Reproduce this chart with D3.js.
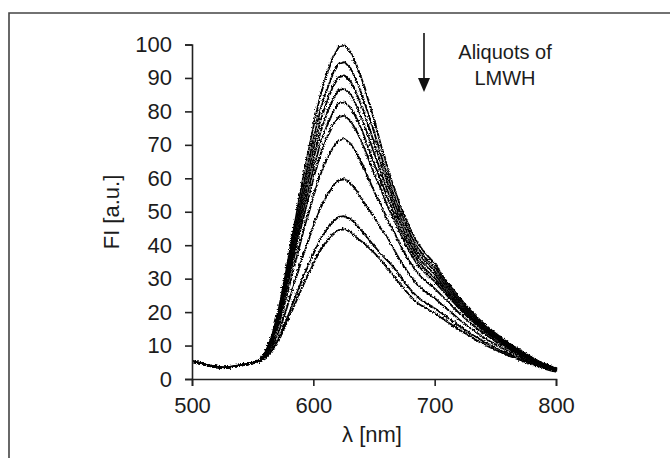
<!DOCTYPE html>
<html>
<head>
<meta charset="utf-8">
<script src="https://cdn.jsdelivr.net/npm/d3@7"></script>
<style>
  body { margin: 0; background: #fff; }
  text { font-family: "Liberation Sans", Arial, sans-serif; fill: #1c1c1c; }
</style>
</head>
<body>
<div id="chart"></div>
<script>
// wavelength grid (nm)
const wavelength = [500,505,510,515,520,525,530,535,540,545,550,
    555,560,565,570,575,580,585,590,595,600,605,610,615,620,625,
    630,635,640,645,650,655,660,665,670,675,680,685,690,695,700,
    705,710,715,720,725,730,735,740,745,750,755,760,765,770,775,780,785,790,795,800];

// fluorescence intensity, one array per aliquot (top to bottom)
const fi1 = [5.6,5.1,4.6,4.2,3.9,3.7,3.8,4.1,4.4,4.8,5.2,
    6.0,8.5,13,20,29,39,49,59,68,77,85,91,96,99.5,100,
    98,94,89,83,77,70,64,58,53,48.5,44.5,41,38.5,36.5,34.5,
    31.5,29,26.8,24.5,22.3,20.3,18.4,16.8,15.2,13.8,12.4,11.1,9.9,8.8,7.7,6.6,5.6,4.8,4.1,3.5];
const fi2 = [5.4,5.0,4.5,4.1,3.8,3.6,3.9,4.0,4.5,4.7,5.3,
    5.9,8.3,12.6,19.2,27.7,37.2,46.7,56.1,64.7,73.2,80.8,86.4,91.2,94.5,95,
    93.1,89.3,84.5,78.9,73.2,67.1,61.4,55.9,51.1,46.8,42.9,39.6,37.2,35.2,33.3,
    30.6,28.2,26,23.8,21.7,19.7,17.9,16.3,14.8,13.4,12.1,10.9,9.7,8.6,7.5,6.5,5.5,4.7,4.0,3.4];
const fi3 = [5.5,5.2,4.7,4.3,4.0,3.8,3.7,4.2,4.3,4.9,5.1,
    5.9,8.2,12.2,18.6,26.7,35.8,44.8,53.9,62,70.2,77.4,82.8,87.4,90.5,91,
    89.2,85.5,81,75.6,70.2,64.7,59.2,54,49.4,45.2,41.5,38.3,36,34.1,32.3,
    29.7,27.4,25.3,23.1,21.1,19.2,17.4,15.8,14.4,13,11.7,10.5,9.4,8.3,7.3,6.3,5.4,4.6,3.9,3.3];
const fi4 = [5.3,4.9,4.5,4.2,3.9,3.5,3.8,4.0,4.4,4.6,5.2,
    5.9,8,11.9,17.9,25.7,34.3,43,51.6,59.4,67.1,74,79.2,83.5,86.6,87,
    85.3,81.8,77.5,72.3,67.1,62.2,56.9,52.2,47.7,43.7,40.2,37,34.8,33,31.3,
    28.8,26.6,24.5,22.4,20.5,18.6,16.9,15.4,14,12.7,11.4,10.2,9.1,8.1,7.1,6.1,5.2,4.4,3.8,3.2];
const fi5 = [5.7,5.1,4.6,4.1,3.8,3.7,3.9,4.2,4.5,4.8,5.0,
    5.8,7.9,11.6,17.3,24.7,32.9,41.1,49.3,56.7,64.1,70.7,75.6,79.7,82.6,83,
    81.4,78.1,74,69,64.1,59.6,54.6,50.3,46,42.2,38.8,35.8,33.6,31.9,30.2,
    27.9,25.8,23.8,21.8,19.9,18.1,16.5,15,13.6,12.3,11.1,9.9,8.9,7.9,6.9,6,5.1,4.3,3.6,3.1];
const fi6 = [5.4,5.0,4.7,4.3,3.9,3.6,3.8,4.1,4.3,4.7,5.1,
    5.8,7.7,11.2,16.7,23.7,31.5,39.3,47.1,54.1,61.1,67.3,72,75.9,78.6,79,
    77.4,74.3,70.4,65.8,61.1,57,52.2,48.5,44.4,40.7,37.4,34.5,32.5,30.8,29.2,
    27,25,23.1,21.1,19.3,17.6,16,14.6,13.2,12,10.8,9.7,8.7,7.7,6.7,5.8,5,4.2,3.5,3];
const fi7 = [5.5,5.1,4.5,4.2,4.0,3.8,3.7,4.0,4.4,4.8,5.2,
    5.7,7.5,10.6,15.6,21.9,29,36,43.1,49.4,55.8,61.4,65.6,69.2,71.6,72,
    70.6,67.7,64.2,60,55.8,52.5,48.1,44.8,41,37.6,34.6,32,30.1,28.6,27.1,
    25.2,23.4,21.6,19.8,18.2,16.6,15.1,13.8,12.6,11.4,10.3,9.3,8.3,7.4,6.5,5.6,4.8,4.1,3.4,2.9];
const fi8 = [5.6,5.0,4.6,4.1,3.8,3.6,3.9,4.1,4.2,4.7,5.0,
    5.6,7,9.6,13.7,18.9,24.7,30.5,36.3,41.5,46.7,51.3,54.8,57.7,59.7,60,
    58.8,56.5,53.6,51,48.2,45.3,42.8,39.5,36.2,33.3,30.7,28.4,26.8,25.5,24.2,
    22.6,21,19.5,17.9,16.5,15.1,13.8,12.6,11.5,10.5,9.5,8.6,7.7,6.9,6,5.2,4.5,3.8,3.2,2.8];
const fi9 = [5.3,5.1,4.7,4.2,3.9,3.7,3.8,4.0,4.4,4.6,5.1,
    5.5,6.6,8.7,11.9,16.1,20.7,25.4,30,34.2,38.3,42,44.8,47.1,48.8,49,
    48.1,46.3,44.2,42,39.8,37.6,35.8,33.9,31.4,28.9,26.7,24.8,23.4,22.3,21.2,
    19.9,18.6,17.3,16,14.8,13.6,12.5,11.4,10.4,9.5,8.6,7.8,7,6.3,5.5,4.8,4.1,3.5,3,2.6];
const fi10 = [5.5,4.9,4.5,4.3,3.8,3.6,3.7,4.1,4.3,4.7,5.0,
    5.4,6.5,8.4,11.3,15.1,19.3,23.5,27.7,31.5,35.3,38.7,41.2,43.3,44.8,45,
    44.2,42.5,41.1,39.5,37.8,35.8,33.6,31.4,29,26.8,24.8,23,21.8,20.8,19.8,
    18.5,17.3,16.1,14.9,13.8,12.7,11.6,10.6,9.7,8.9,8.1,7.3,6.6,5.9,5.2,4.5,3.9,3.3,2.8,2.4];

const spectra = [fi1, fi2, fi3, fi4, fi5, fi6, fi7, fi8, fi9, fi10];

const xTicks = [500, 600, 700, 800];
const yTicks = [0, 10, 20, 30, 40, 50, 60, 70, 80, 90, 100];

const width = 670;
const height = 458;

const svg = d3.select("#chart")
    .append("svg")
    .attr("width", width)
    .attr("height", height);

// roughness so the traces look like noisy measured spectra
const filter = svg.append("defs").append("filter")
    .attr("id", "rough")
    .attr("x", "-5%").attr("y", "-5%")
    .attr("width", "110%").attr("height", "110%");
filter.append("feTurbulence")
    .attr("type", "turbulence")
    .attr("baseFrequency", 0.45)
    .attr("numOctaves", 2)
    .attr("seed", 7)
    .attr("result", "noise");
filter.append("feDisplacementMap")
    .attr("in", "SourceGraphic")
    .attr("in2", "noise")
    .attr("scale", 3.2)
    .attr("xChannelSelector", "R")
    .attr("yChannelSelector", "G");

// outer frame (only top and left edges show)
svg.append("path")
    .attr("d", "M9,458V13H670")
    .attr("fill", "none")
    .attr("stroke", "#444")
    .attr("stroke-width", 1.6);

const x = d3.scaleLinear().domain([500, 800]).range([192, 556]);
const y = d3.scaleLinear().domain([0, 100]).range([379, 44.5]);

const line = d3.line()
    .x((d, i) => x(wavelength[i]))
    .y(d => y(d));

svg.append("g")
    .attr("filter", "url(#rough)")
    .selectAll("path")
    .data(spectra)
    .enter()
    .append("path")
    .attr("d", line)
    .attr("fill", "none")
    .attr("stroke", "#000")
    .attr("stroke-width", 1.8);

const yAxis = svg.append("g")
    .attr("transform", "translate(192,0)")
    .call(d3.axisLeft(y).tickValues(yTicks).tickSize(7).tickPadding(13));

const xAxis = svg.append("g")
    .attr("transform", "translate(0,379)")
    .call(d3.axisBottom(x).tickValues(xTicks).tickSize(7).tickPadding(11));

[xAxis, yAxis].forEach(g => {
    g.selectAll("path, line").attr("stroke", "#222").attr("stroke-width", 1.6);
    g.selectAll("text").attr("font-size", "22px").attr("fill", "#1c1c1c")
        .attr("font-family", "'Liberation Sans', Arial, sans-serif");
});

svg.append("text")
    .attr("x", 372)
    .attr("y", 442)
    .attr("text-anchor", "middle")
    .attr("font-size", "22px")
    .text("λ [nm]");

svg.append("text")
    .attr("transform", "translate(119,212) rotate(-90)")
    .attr("text-anchor", "middle")
    .attr("font-size", "22px")
    .text("FI [a.u.]");

// annotation arrow
svg.append("line")
    .attr("x1", 424).attr("y1", 33)
    .attr("x2", 424).attr("y2", 80)
    .attr("stroke", "#111")
    .attr("stroke-width", 1.6);
svg.append("path")
    .attr("d", "M418,78L430,78L424,92Z")
    .attr("fill", "#111");

svg.append("text")
    .attr("x", 505)
    .attr("y", 59)
    .attr("text-anchor", "middle")
    .attr("font-size", "20px")
    .text("Aliquots of");

svg.append("text")
    .attr("x", 505)
    .attr("y", 85)
    .attr("text-anchor", "middle")
    .attr("font-size", "20px")
    .text("LMWH");
</script>
</body>
</html>
